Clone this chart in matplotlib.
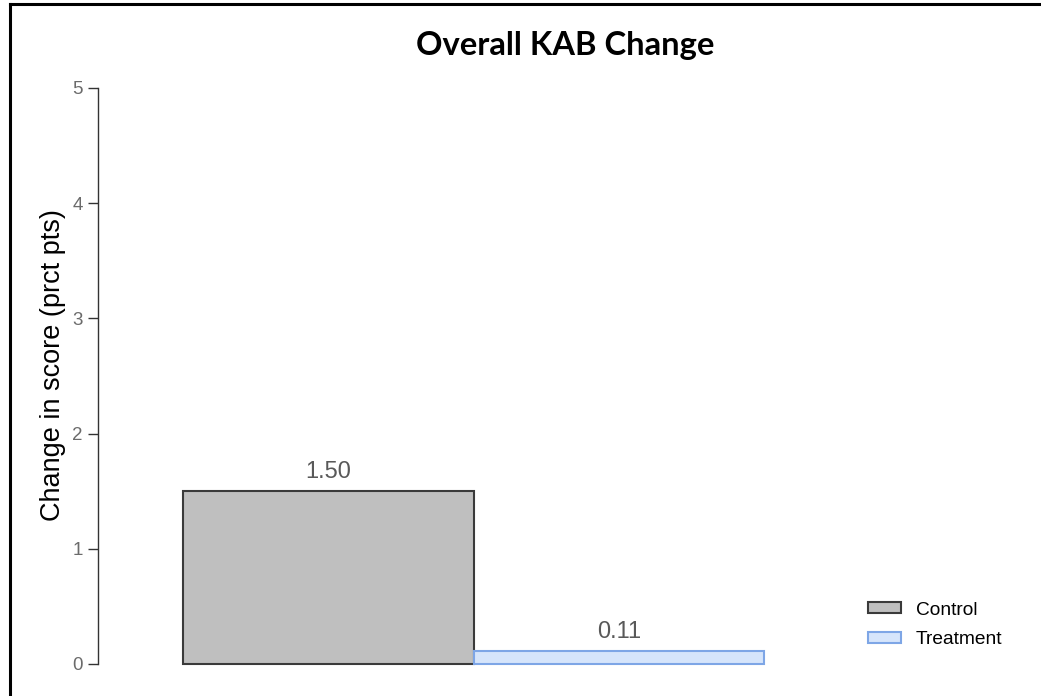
import matplotlib.pyplot as plt
from matplotlib.lines import Line2D

# data
groups = ["Control", "Treatment"]
changes = [1.50, 0.11]
value_labels = ["1.50", "0.11"]
yticks = [0, 1, 2, 3, 4, 5]

face_colors = ["#bfbfbf", "#d6e5fb"]
edge_colors = ["#3a3a3a", "#7ea6e6"]

fig = plt.figure(figsize=(10.41, 6.96), dpi=100)
ax = fig.add_axes([98/1041, 32/696, 751/1041, 576/696])

# adjacent bars, width 1
positions = list(range(len(groups)))
bars = ax.bar(positions, changes, width=1.0, color=face_colors,
              edgecolor=edge_colors, linewidth=1.5, label=groups, clip_on=False)

for b, txt in zip(bars, value_labels):
    ax.annotate(txt, (b.get_x() + b.get_width()/2, b.get_height()),
                textcoords="offset points", xytext=(0, 6), ha="center", va="bottom",
                fontsize=17, color="#595959", family="Liberation Sans")

ax.set_xlim(-0.793, 1.793)
ax.set_ylim(0, 5)
ax.set_yticks(yticks)
ax.set_yticklabels([str(t) for t in yticks], fontsize=13.5, color="#6b6b6b", family="Liberation Sans")
ax.tick_params(axis="y", length=7, width=1, color="#333333", pad=4)
ax.set_xticks([])
for s in ["top", "right", "bottom"]:
    ax.spines[s].set_visible(False)
ax.spines["left"].set_color("#333333")
ax.spines["left"].set_linewidth(1)

ax.set_ylabel("Change in score (prct pts)", fontsize=19.5, family="Liberation Sans",
              color="black")
ax.yaxis.set_label_coords(-0.042, 0.519)

fig.text(565/1041, 1 - 45/696, "Overall KAB Change", ha="center", va="center",
         fontsize=23.6, fontweight="bold", family="Lato")

ax.legend(loc="upper left", bbox_to_anchor=(860/1041, 1 - 594/696),
          bbox_transform=fig.transFigure, frameon=False,
          prop={"family": "Liberation Sans", "size": 13.8},
          handlelength=1.75, handleheight=0.52, handletextpad=0.75,
          labelspacing=0.65, borderaxespad=0)

# frame lines of the screenshot
fig.add_artist(Line2D([10/1041, 1], [1 - 3.5/696, 1 - 3.5/696], color="black",
                      linewidth=2.2, transform=fig.transFigure))
fig.add_artist(Line2D([10/1041, 10/1041], [0, 1 - 3.5/696], color="black",
                      linewidth=2.2, transform=fig.transFigure))

fig.savefig("out.png", dpi=100)
